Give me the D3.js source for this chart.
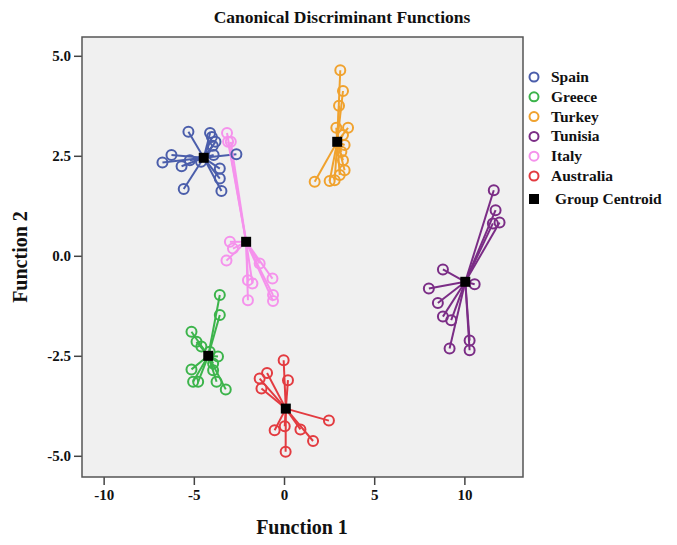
<!DOCTYPE html>
<html>
<head>
<meta charset="utf-8">
<script src="https://cdn.jsdelivr.net/npm/d3@7"></script>
<style>
  body { margin: 0; background: #fff; }
  text { font-family: "Liberation Serif", "Times New Roman", serif; font-weight: bold; fill: #111; }
</style>
</head>
<body>
<div id="chart"></div>
<script>
var groups = ["Spain", "Greece", "Turkey", "Tunisia", "Italy", "Australia"];
var colors = ["#4b5eab", "#3cb44b", "#f0a22e", "#7b2d86", "#f592ec", "#e33b40"];
var xTicks = [-10, -5, 0, 5, 10];
var yTicks = [5, 2.5, 0, -2.5, -5];

var centroids = [
  [-4.45, 2.45], [-4.2, -2.5], [2.95, 2.85], [10.05, -0.65], [-2.1, 0.35], [0.1, -3.82]
];

var spain = [[-5.3, 3.1], [-4.1, 3.07], [-3.8, 2.85], [-4.0, 2.97], [-3.95, 2.75], [-6.24, 2.52],
  [-6.74, 2.33], [-5.68, 2.24], [-5.22, 2.39], [-2.64, 2.54], [-3.9, 2.52], [-3.56, 2.18],
  [-3.56, 1.93], [-5.56, 1.67], [-3.47, 1.62], [-4.6, 2.35]];
var greece = [[-3.56, -0.98], [-3.56, -1.48], [-5.13, -1.9], [-4.85, -2.15], [-4.58, -2.27],
  [-3.66, -2.52], [-3.93, -2.69], [-5.13, -2.84], [-3.93, -2.86], [-5.04, -3.15], [-4.76, -3.15],
  [-3.74, -3.15], [-3.23, -3.34], [-4.12, -2.4]];
var turkey = [[3.12, 4.64], [3.27, 4.12], [3.05, 3.75], [2.9, 3.2], [3.55, 3.2], [3.27, 3.02],
  [3.36, 2.77], [3.18, 2.6], [3.27, 2.39], [3.36, 2.14], [3.09, 2.02], [1.7, 1.85], [2.53, 1.87],
  [2.81, 1.89]];
var tunisia = [[11.63, 1.64], [11.73, 1.14], [11.58, 0.81], [11.95, 0.83], [8.81, -0.34],
  [10.57, -0.71], [8.03, -0.82], [8.53, -1.18], [8.81, -1.52], [9.27, -1.61], [9.18, -2.32],
  [10.29, -2.12], [10.29, -2.36]];
var italy = [[-3.16, 3.07], [-3.1, 2.85], [-2.95, 2.85], [-3.0, 0.35], [-2.83, 0.18], [-3.19, -0.12],
  [-1.35, -0.19], [-0.64, -0.57], [-2.0, -0.61], [-1.75, -0.69], [-2.0, -1.11], [-0.61, -0.98],
  [-0.61, -1.13]];
var australia = [[-0.02, -2.61], [-0.94, -2.93], [-1.35, -3.07], [0.22, -3.11], [-1.25, -3.32],
  [2.49, -4.12], [-0.52, -4.36], [0.04, -4.26], [0.91, -4.34], [1.61, -4.63], [0.09, -4.9]];

var points = [spain, greece, turkey, tunisia, italy, australia];

var width = 677, height = 545;
var plot = {left: 82, right: 523, top: 37, bottom: 477};

var svg = d3.select("#chart").append("svg")
  .attr("width", width)
  .attr("height", height);

var x = d3.scaleLinear().domain([-11.2, 13.25]).range([plot.left, plot.right]);
var y = d3.scaleLinear().domain([-5.53, 5.47]).range([plot.bottom, plot.top]);

svg.append("rect")
  .attr("x", plot.left).attr("y", plot.top)
  .attr("width", plot.right - plot.left).attr("height", plot.bottom - plot.top)
  .attr("fill", "#f0f0f0");

// title
svg.append("text")
  .attr("x", 342).attr("y", 23)
  .attr("text-anchor", "middle")
  .style("font-size", "17.5px")
  .text("Canonical Discriminant Functions");

// axes (hyphen minus, like the original)
var fmtX = function(d) { return d3.format("d")(d).replace("\u2212", "-"); };
var fmtY = function(d) { return d3.format(".1f")(d).replace("\u2212", "-"); };

var xAxis = svg.append("g")
  .attr("transform", "translate(0," + plot.bottom + ")")
  .call(d3.axisBottom(x).tickValues(xTicks).tickSize(8).tickPadding(4).tickFormat(fmtX));
var yAxis = svg.append("g")
  .attr("transform", "translate(" + plot.left + ",0)")
  .call(d3.axisLeft(y).tickValues(yTicks).tickSize(8).tickPadding(3).tickFormat(fmtY));

[xAxis, yAxis].forEach(function(a) {
  a.select(".domain").remove();
  a.selectAll("line").attr("stroke", "#444").attr("stroke-width", 1.5);
  a.selectAll("text").style("font-size", "15px").style("font-family", "Liberation Serif, serif").attr("fill", "#111");
});

svg.append("text")
  .attr("x", 302).attr("y", 534)
  .attr("text-anchor", "middle")
  .style("font-size", "20px")
  .text("Function 1");

svg.append("text")
  .attr("transform", "translate(27,257) rotate(-90)")
  .attr("text-anchor", "middle")
  .style("font-size", "20px")
  .text("Function 2");

// lines from centroid to each case
var plotG = svg.append("g");
groups.forEach(function(g, i) {
  var c = centroids[i];
  plotG.selectAll(".ln" + i)
    .data(points[i])
    .enter().append("line")
    .attr("x1", x(c[0])).attr("y1", y(c[1]))
    .attr("x2", function(d) { return x(d[0]); })
    .attr("y2", function(d) { return y(d[1]); })
    .attr("stroke", colors[i])
    .attr("stroke-width", 2);
});
groups.forEach(function(g, i) {
  plotG.selectAll(".pt" + i)
    .data(points[i])
    .enter().append("circle")
    .attr("cx", function(d) { return x(d[0]); })
    .attr("cy", function(d) { return y(d[1]); })
    .attr("r", 5)
    .attr("fill", "none")
    .attr("stroke", colors[i])
    .attr("stroke-width", 2);
});
plotG.selectAll(".cen")
  .data(centroids)
  .enter().append("rect")
  .attr("x", function(d) { return x(d[0]) - 5; })
  .attr("y", function(d) { return y(d[1]) - 5; })
  .attr("width", 10).attr("height", 10)
  .attr("fill", "#000");

// border
svg.append("rect")
  .attr("x", plot.left).attr("y", plot.top)
  .attr("width", plot.right - plot.left).attr("height", plot.bottom - plot.top)
  .attr("fill", "none")
  .attr("stroke", "#555").attr("stroke-width", 1.5);

// legend
var legend = svg.append("g");
groups.forEach(function(g, i) {
  var ly = 77 + i * 19.8;
  legend.append("circle")
    .attr("cx", 534).attr("cy", ly)
    .attr("r", 4.5)
    .attr("fill", "none")
    .attr("stroke", colors[i])
    .attr("stroke-width", 2);
  legend.append("text")
    .attr("x", 551).attr("y", ly + 5)
    .style("font-size", "15.5px")
    .text(g);
});
legend.append("rect")
  .attr("x", 529).attr("y", 194)
  .attr("width", 10).attr("height", 10)
  .attr("fill", "#000");
legend.append("text")
  .attr("x", 555).attr("y", 204)
  .style("font-size", "15.5px")
  .text("Group Centroid");
</script>
</body>
</html>
